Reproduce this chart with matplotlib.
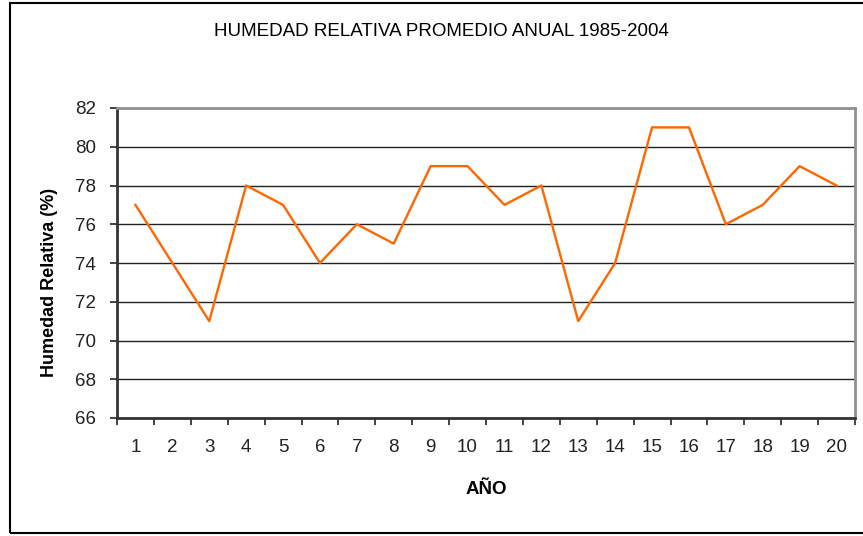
import matplotlib
matplotlib.use("Agg")
import matplotlib.pyplot as plt
from matplotlib.patches import Rectangle

years = list(range(1, 21))
humedad = [77, 74, 71, 78, 77, 74, 76, 75, 79, 79, 77, 78, 71, 74, 81, 81, 76, 77, 79, 78]
y_ticks = [66, 68, 70, 72, 74, 76, 78, 80, 82]

plt.rcParams['font.family'] = ['Liberation Sans', 'DejaVu Sans']

fig = plt.figure(figsize=(8.63, 5.36), dpi=100)
fig.patch.set_facecolor('white')

# outer chart frame (cut at the right edge)
fig.patches.append(Rectangle((10 / 863, 3 / 536), 1.0, 530 / 536, transform=fig.transFigure,
                             fill=False, edgecolor='black', linewidth=1.5))

ax = fig.add_axes([117 / 863, (536 - 418) / 536, 738 / 863, 310 / 536])
ax.plot(years, humedad, color='#FF6600', linewidth=1.7, zorder=3)

ax.set_xlim(0.5, 20.5)
ax.set_ylim(66, 82)
ax.set_yticks(y_ticks)
ax.set_yticklabels([str(v) for v in y_ticks], fontsize=13.5, color='#222222')
ax.yaxis.grid(True, color='#222222', linewidth=1.0)
ax.set_axisbelow(True)

ax.set_xticks([i + 0.5 for i in range(0, 21)])
ax.set_xticklabels([])
ax.set_xticks(years, minor=True)
ax.set_xticklabels([str(y) for y in years], minor=True, fontsize=13.5, color='#222222')
ax.tick_params(axis='x', which='major', length=5, width=1.2, direction='out', color='#222222')
ax.tick_params(axis='x', which='minor', length=0, pad=15)
ax.tick_params(axis='y', length=5, width=1.2, direction='out', color='#222222', pad=10)

for s in ['left', 'bottom']:
    ax.spines[s].set_color('#333333')
    ax.spines[s].set_linewidth(2)
for s in ['top', 'right']:
    ax.spines[s].set_color('#909090')
    ax.spines[s].set_linewidth(2)

fig.text(50 / 863, 1 - 282 / 536, 'Humedad Relativa (%)', rotation=90,
         ha='center', va='center', fontsize=13, fontweight='bold')
fig.text(486 / 863, 1 - 490 / 536, 'AÑO', ha='center', va='center',
         fontsize=13.5, fontweight='bold')

fig.text(441 / 863, 1 - 32 / 536, 'HUMEDAD RELATIVA PROMEDIO ANUAL 1985-2004',
         ha='center', va='center', fontsize=13.5)

fig.savefig('out.png', dpi=100, facecolor='white')
